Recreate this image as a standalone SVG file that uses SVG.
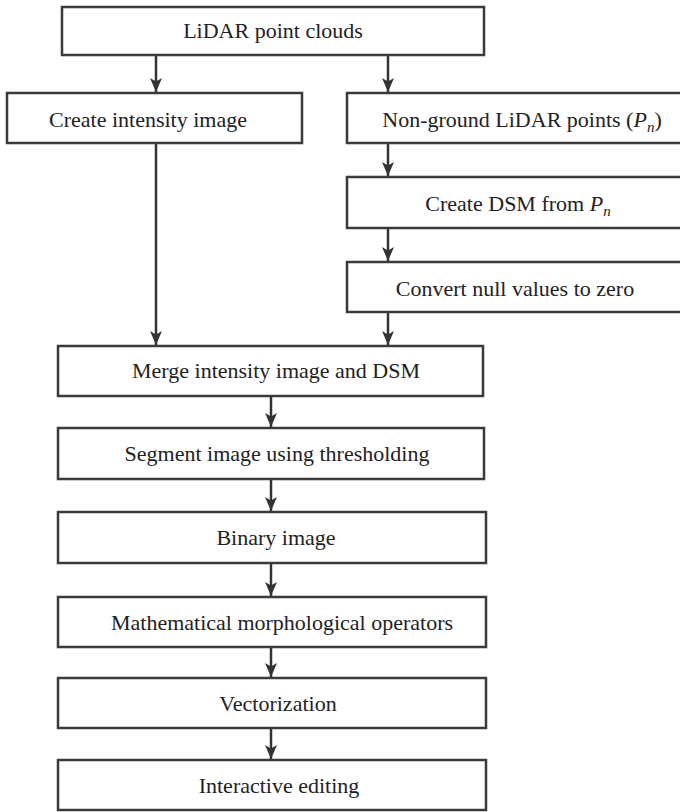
<svg xmlns="http://www.w3.org/2000/svg" width="680" height="812" viewBox="0 0 680 812">
<defs>
<style>
.box{fill:#fff;stroke:#3a3a3a;stroke-width:2.5}
.lbl{font-family:"Liberation Serif","Times New Roman",serif;font-size:22px;fill:#222;text-anchor:middle}
.it{font-style:italic}
.con{stroke:#333;stroke-width:2.5;fill:none;marker-end:url(#ah)}
</style>
<marker id="ah" markerUnits="userSpaceOnUse" markerWidth="14" markerHeight="12" viewBox="0 0 14 12" refX="14" refY="6" orient="auto">
<path d="M0,0 L3.5,6 L0,12 L14,6 Z" fill="#333"/>
</marker>
</defs>
<rect width="680" height="812" fill="#fff"/>
<g id="connectors">
<line class="con" x1="156" y1="55" x2="156" y2="92"/>
<line class="con" x1="388" y1="55" x2="388" y2="92"/>
<line class="con" x1="156" y1="143" x2="156" y2="345"/>
<line class="con" x1="388" y1="143" x2="388" y2="176"/>
<line class="con" x1="388" y1="228" x2="388" y2="261"/>
<line class="con" x1="388" y1="312" x2="388" y2="345"/>
<line class="con" x1="271" y1="396" x2="271" y2="427"/>
<line class="con" x1="271" y1="479" x2="271" y2="511"/>
<line class="con" x1="271" y1="563" x2="271" y2="596"/>
<line class="con" x1="271" y1="647" x2="271" y2="677"/>
<line class="con" x1="271" y1="728" x2="271" y2="759"/>
</g>
<g id="n1"><rect class="box" x="62" y="7" width="422" height="48"/><text class="lbl" x="273" y="38">LiDAR point clouds</text></g>
<g id="n2"><rect class="box" x="7" y="93" width="295" height="50"/><text class="lbl" x="148" y="127">Create intensity image</text></g>
<g id="n3"><rect class="box" x="347" y="93" width="340" height="50"/><text class="lbl" x="522" y="127">Non-ground LiDAR points (<tspan class="it">P</tspan><tspan class="it" font-size="15" dy="5">n</tspan><tspan dy="-5">)</tspan></text></g>
<g id="n4"><rect class="box" x="347" y="177" width="340" height="51"/><text class="lbl" x="518" y="211">Create DSM from <tspan class="it">P</tspan><tspan class="it" font-size="15" dy="5">n</tspan></text></g>
<g id="n5"><rect class="box" x="347" y="262" width="340" height="50"/><text class="lbl" x="515" y="296">Convert null values to zero</text></g>
<g id="n6"><rect class="box" x="58" y="346" width="425" height="50"/><text class="lbl" x="276" y="378">Merge intensity image and DSM</text></g>
<g id="n7"><rect class="box" x="58" y="428" width="426" height="51"/><text class="lbl" x="277" y="461">Segment image using thresholding</text></g>
<g id="n8"><rect class="box" x="58" y="512" width="428" height="51"/><text class="lbl" x="276" y="545">Binary image</text></g>
<g id="n9"><rect class="box" x="58" y="597" width="428" height="50"/><text class="lbl" x="282" y="630">Mathematical morphological operators</text></g>
<g id="n10"><rect class="box" x="58" y="678" width="428" height="50"/><text class="lbl" x="278" y="711">Vectorization</text></g>
<g id="n11"><rect class="box" x="58" y="760" width="428" height="50"/><text class="lbl" x="279" y="793">Interactive editing</text></g>
</svg>
